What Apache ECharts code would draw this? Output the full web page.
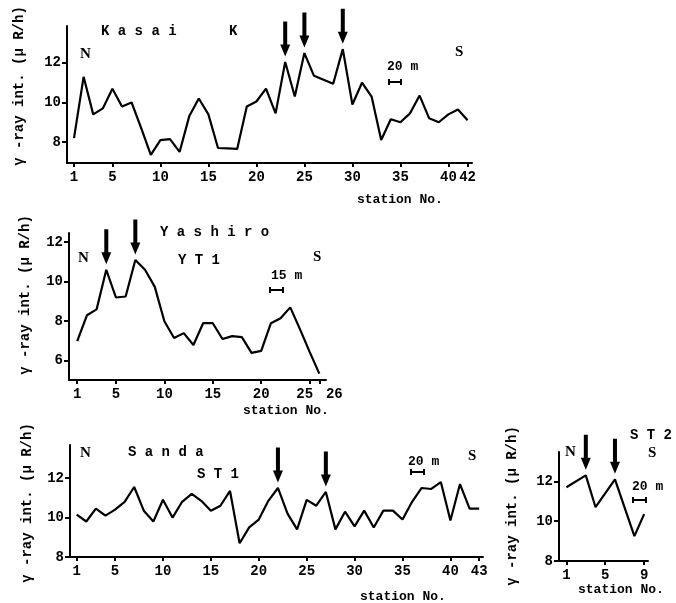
<!DOCTYPE html>
<html>
<head>
<meta charset="utf-8">
<script src="https://cdn.jsdelivr.net/npm/echarts@6/dist/echarts.min.js"></script>
<style>
html, body {margin: 0; padding: 0; background: #fff;}
#chart {width: 676px; height: 603px;}
</style>
</head>
<body>
<div id="chart"></div>
<script>
// Kasai K
var kasaiStations = [1, 2, 3, 4, 5, 6, 7, 8, 9, 10, 11, 12, 13, 14, 15, 16, 17, 18, 19, 20, 21,
    22, 23, 24, 25, 26, 27, 28, 29, 30, 31, 32, 33, 34, 35, 36, 37, 38, 39, 40, 41, 42];
var kasaiValues = [8.2, 11.3, 9.4, 9.7, 10.7, 9.8, 10.0, 8.7, 7.35, 8.1, 8.15, 7.5, 9.3, 10.2, 9.4,
    7.7, 7.68, 7.65, 9.8, 10.05, 10.7, 9.45, 12.05, 10.3, 12.5, 11.35, 11.15, 10.95, 12.7, 9.9,
    11.0, 10.3, 8.1, 9.15, 9.0, 9.45, 10.35, 9.2, 9.0, 9.4, 9.65, 9.1];
var kasaiArrows = [23, 25, 29];
var kasaiTicks = [1, 5, 10, 15, 20, 25, 30, 35, 40, 42];

// Yashiro YT1
var yashiroStations = [1, 2, 3, 4, 5, 6, 7, 8, 9, 10, 11, 12, 13, 14, 15, 16, 17, 18, 19, 20,
    21, 22, 23, 24, 25, 26];
var yashiroValues = [7.0, 8.3, 8.6, 10.6, 9.2, 9.25, 11.1, 10.6, 9.75, 8.0, 7.15, 7.4, 6.8, 7.9,
    7.9, 7.1, 7.25, 7.2, 6.4, 6.5, 7.9, 8.15, 8.7, 7.6, 6.45, 5.35];
var yashiroArrows = [4, 7];
var yashiroTicks = [1, 5, 10, 15, 20, 25, 26];

// Sanda ST1
var sandaStations = [1, 2, 3, 4, 5, 6, 7, 8, 9, 10, 11, 12, 13, 14, 15, 16, 17, 18, 19, 20, 21,
    22, 23, 24, 25, 26, 27, 28, 29, 30, 31, 32, 33, 34, 35, 36, 37, 38, 39, 40, 41, 42, 43];
var sandaValues = [10.15, 9.8, 10.45, 10.1, 10.4, 10.8, 11.55, 10.35, 9.8, 10.9, 10.0, 10.8, 11.2,
    10.85, 10.35, 10.6, 11.35, 8.7, 9.5, 9.9, 10.85, 11.5, 10.2, 9.4, 10.9, 10.6, 11.3, 9.4, 10.3,
    9.55, 10.35, 9.5, 10.35, 10.35, 9.9, 10.8, 11.5, 11.45, 11.8, 9.85, 11.7, 10.45, 10.45];
var sandaArrows = [22, 27];
var sandaTicks = [1, 5, 10, 15, 20, 25, 30, 35, 40, 43];

// ST2 (line vertices)
var st2Stations = [1, 3, 4, 6, 8, 9];
var st2Values = [11.7, 12.3, 10.7, 12.1, 9.25, 10.35];
var st2Arrows = [3, 6];
var st2Ticks = [1, 5, 9];

var yTicks = [8, 10, 12];
var yTicks2 = [6, 8, 10, 12];

var MONO = '"Liberation Mono", monospace';
var SERIF = '"Liberation Serif", serif';

function pairs(xs, ys) {
    return xs.map(function (x, i) { return [x, ys[i]]; });
}

function valueAt(xs, ys, s) {
    return ys[xs.indexOf(s)];
}

var arrowPath = 'path://M3,0 L7,0 L7,23 L10,23 L5,35 L0,23 L3,23 Z';

function arrows(xs, ys, list) {
    return {
        symbol: arrowPath,
        symbolSize: [10, 35],
        symbolOffset: [0, -23],
        itemStyle: {color: '#000'},
        label: {show: false},
        silent: true,
        data: list.map(function (s) { return {coord: [s, valueAt(xs, ys, s)]}; })
    };
}

function xAxis(idx, min, max, ticks, formatter) {
    return {
        type: 'value', gridIndex: idx, min: min, max: max,
        axisLine: {onZero: false, lineStyle: {color: '#000', width: 2}},
        axisTick: {customValues: ticks, length: 4, lineStyle: {color: '#000', width: 2}},
        axisLabel: {customValues: ticks, color: '#000', fontFamily: MONO, fontWeight: 'bold',
            fontSize: 14, margin: 7, formatter: formatter},
        splitLine: {show: false}
    };
}

function yAxis(idx, min, max, ticks) {
    return {
        type: 'value', gridIndex: idx, min: min, max: max,
        axisLine: {show: true, onZero: false, lineStyle: {color: '#000', width: 2}},
        axisTick: {show: true, customValues: ticks, length: 5, lineStyle: {color: '#000', width: 2}},
        axisLabel: {customValues: ticks, color: '#000', fontFamily: MONO, fontWeight: 'bold',
            fontSize: 14, margin: 6},
        splitLine: {show: false}
    };
}

function line(idx, xs, ys, list) {
    return {
        type: 'line', xAxisIndex: idx, yAxisIndex: idx,
        data: pairs(xs, ys),
        symbol: 'none',
        lineStyle: {color: '#000', width: 2.2},
        markPoint: arrows(xs, ys, list),
        animation: false
    };
}

function txt(x, y, s, size, family) {
    return {
        type: 'text', x: x, y: y,
        style: {text: s, font: 'bold ' + size + 'px ' + family, fill: '#000',
            align: 'left', verticalAlign: 'middle'}
    };
}

function ytitle(x, y) {
    return {
        type: 'text', x: x, y: y, rotation: Math.PI / 2,
        style: {text: 'γ -ray int. (μ R/h)', font: 'bold 14px ' + MONO, fill: '#000',
            align: 'center', verticalAlign: 'middle'}
    };
}

function bar(x, y, w) {
    var st = {stroke: '#000', lineWidth: 2};
    return {
        type: 'group', children: [
            {type: 'line', shape: {x1: x, y1: y, x2: x + w, y2: y}, style: st},
            {type: 'line', shape: {x1: x, y1: y - 3, x2: x, y2: y + 3}, style: st},
            {type: 'line', shape: {x1: x + w, y1: y - 3, x2: x + w, y2: y + 3}, style: st}
        ]
    };
}

var chart = echarts.init(document.getElementById('chart'));

chart.setOption({
    animation: false,
    grid: [
        {left: 67, right: 204, top: 26, bottom: 440},
        {left: 69, right: 350, top: 233, bottom: 223},
        {left: 70, right: 193, top: 445, bottom: 46},
        {left: 559, right: 28, top: 452, bottom: 42}
    ],
    xAxis: [
        xAxis(0, 0.27, 42.46, kasaiTicks),
        xAxis(1, 0.15, 26.69, yashiroTicks, function (v) {
            if (v === 25) return '{l|25}';
            if (v === 26) return '{r|26}';
            return '' + v;
        }),
        xAxis(2, 0.3, 43.4, sandaTicks),
        xAxis(3, 0.24, 9.4, st2Ticks)
    ],
    yAxis: [
        yAxis(0, 6.94, 13.87, yTicks),
        yAxis(1, 5.03, 12.46, yTicks2),
        yAxis(2, 8, 13.68, yTicks),
        yAxis(3, 8, 13.47, yTicks)
    ],
    series: [
        line(0, kasaiStations, kasaiValues, kasaiArrows),
        line(1, yashiroStations, yashiroValues, yashiroArrows),
        line(2, sandaStations, sandaValues, sandaArrows),
        line(3, st2Stations, st2Values, st2Arrows)
    ],
    graphic: [
        ytitle(19, 86), ytitle(25, 295), ytitle(27, 503), ytitle(512, 506),
        txt(101, 31, 'K a s a i', 14, MONO), txt(229, 31, 'K', 14, MONO),
        txt(80, 54, 'N', 15, SERIF), txt(455, 52, 'S', 15, SERIF),
        txt(387, 67, '20 m', 13, MONO), bar(389, 82, 12),
        txt(357, 200, 'station No.', 13, MONO),

        txt(160, 232, 'Y a s h i r o', 14, MONO), txt(178, 260, 'Y T 1', 14, MONO),
        txt(78, 258, 'N', 15, SERIF), txt(313, 257, 'S', 15, SERIF),
        txt(271, 276, '15 m', 13, MONO), bar(270, 290, 13),
        txt(243, 411, 'station No.', 13, MONO),

        txt(80, 453, 'N', 15, SERIF), txt(128, 452, 'S a n d a', 14, MONO),
        txt(197, 474, 'S T 1', 14, MONO), txt(468, 456, 'S', 15, SERIF),
        txt(408, 462, '20 m', 13, MONO), bar(411, 472, 13),
        txt(360, 597, 'station No.', 13, MONO),

        txt(565, 452, 'N', 15, SERIF), txt(630, 435, 'S T 2', 14, MONO),
        txt(648, 453, 'S', 15, SERIF), txt(632, 487, '20 m', 13, MONO), bar(633, 500, 13),
        txt(578, 590, 'station No.', 13, MONO)
    ]
});

chart.setOption({
    xAxis: [{}, {axisLabel: {rich: {
        l: {fontFamily: MONO, fontWeight: 'bold', fontSize: 14, color: '#000', padding: [0, 10, 0, 0]},
        r: {fontFamily: MONO, fontWeight: 'bold', fontSize: 14, color: '#000', padding: [0, 0, 0, 30]}
    }}}, {}, {}]
});
</script>
</body>
</html>
